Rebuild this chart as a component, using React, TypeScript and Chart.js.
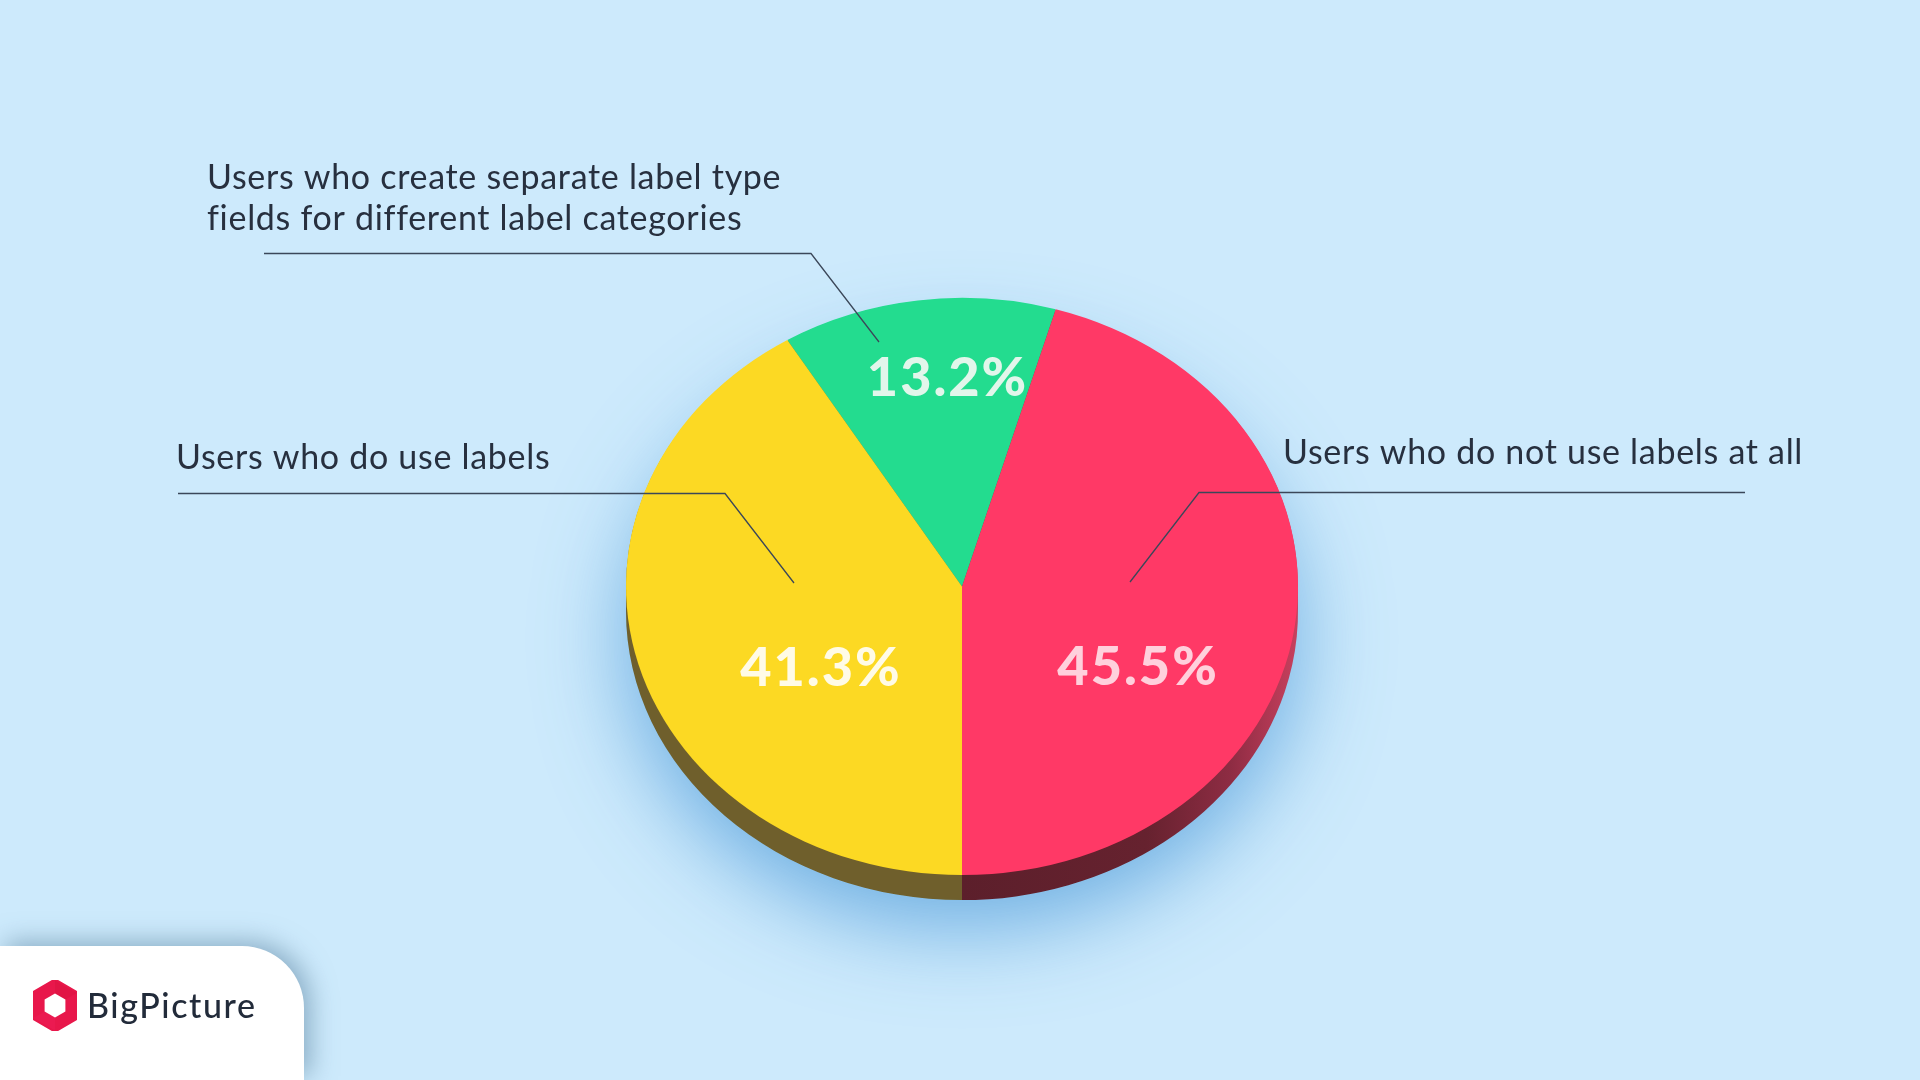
import React, { useEffect, useRef } from "react";
import { Chart, registerables } from "chart.js";

Chart.register(...registerables);

// ---- data ----
const categories: string[][] = [
  ["Users who create separate label type", "fields for different label categories"],
  ["Users who do not use labels at all"],
  ["Users who do use labels"],
];
const values: number[] = [13.2, 45.5, 41.3];
const valueLabels: string[] = ["13.2%", "45.5%", "41.3%"];

// ---- styles ----
const sliceColors = ["#23dc8f", "#ff3966", "#fcd923"];
const valueTextColors = ["#e2f6eb", "#ffd0dc", "#fffbe6"];
const BG = "#cdeafc";
const TEXT = "#27303f";
const SCALE_Y = 0.859;
const DEPTH = 25;

// annotation layout (relative to pie centre, as fraction of radii)
const valueOffsets = [
  [-0.046, -0.66],
  [0.521, 0.341],
  [-0.423, 0.345],
];
// category label anchors (absolute pixels) and leader lines
const labelAnchors = [
  { x: 207, y: [189, 230] },
  { x: 1283, y: [464] },
  { x: 176, y: [469] },
];
const leaders = [
  [[264, 253.5], [811, 253.5], [879, 342]],
  [[1745, 492.5], [1199, 492.5], [1130, 582]],
  [[178, 493.5], [725, 493.5], [794, 583]],
];

const pie3d = {
  id: "pie3d",
  beforeDatasetsDraw(chart: any) {
    const ctx: CanvasRenderingContext2D = chart.ctx;
    const arcs = chart.getDatasetMeta(0).data as any[];
    const { x, y, outerRadius: r } = arcs[0];
    ctx.save();
    ctx.translate(x, y);
    ctx.scale(1, SCALE_Y);
    ctx.translate(-x, -y);
    const d = DEPTH / SCALE_Y;

    // glow/shadow
    ctx.save();
    ctx.shadowColor = "rgba(70,150,215,0.7)";
    ctx.shadowBlur = 85;
    ctx.shadowOffsetY = 28;
    ctx.beginPath();
    ctx.arc(x, y + d, r, 0, Math.PI * 2);
    ctx.fillStyle = "#8fc7ea";
    ctx.fill();
    ctx.restore();

    // side walls
    const sideFills: (string | CanvasGradient)[] = [];
    const gRed = ctx.createLinearGradient(x, 0, x + r, 0);
    gRed.addColorStop(0, "#5c1f2b");
    gRed.addColorStop(0.55, "#66222f");
    gRed.addColorStop(0.8, "#8e2c43");
    gRed.addColorStop(1, "#c8405e");
    sideFills.push("#168a59", gRed, "#6f5f2c");
    arcs.forEach((a: any, i: number) => {
      ctx.beginPath();
      for (let k = d; k >= 1; k -= 1) {
        ctx.moveTo(a.x, a.y + k);
        ctx.arc(a.x, a.y + k, a.outerRadius, a.startAngle, a.endAngle);
        ctx.closePath();
      }
      ctx.fillStyle = sideFills[i];
      ctx.fill();
    });
  },
  afterDatasetsDraw(chart: any) {
    chart.ctx.restore();
  },
  afterDraw(chart: any) {
    const ctx: any = chart.ctx;
    const arcs = chart.getDatasetMeta(0).data as any[];
    const { x, y, outerRadius: r } = arcs[0];
    ctx.save();
    // value labels
    ctx.font = "900 54px Lato, 'Noto Sans', sans-serif";
    ctx.letterSpacing = "2px";
    ctx.textAlign = "center";
    ctx.textBaseline = "alphabetic";
    valueLabels.forEach((t, i) => {
      ctx.fillStyle = valueTextColors[i];
      ctx.fillText(t, x + valueOffsets[i][0] * r + 1, y + valueOffsets[i][1] * r * SCALE_Y);
    });
    // leader lines
    ctx.letterSpacing = "0px";
    ctx.strokeStyle = "#3b4759";
    ctx.lineWidth = 1.3;
    leaders.forEach((pts) => {
      ctx.beginPath();
      ctx.moveTo(pts[0][0], pts[0][1]);
      for (let i = 1; i < pts.length; i++) ctx.lineTo(pts[i][0], pts[i][1]);
      ctx.stroke();
    });
    // category labels
    ctx.font = "400 34px Lato, 'Noto Sans', sans-serif";
    ctx.letterSpacing = "0.7px";
    ctx.textAlign = "left";
    ctx.fillStyle = TEXT;
    categories.forEach((lines, i) => {
      lines.forEach((ln, j) => {
        ctx.fillText(ln, labelAnchors[i].x, labelAnchors[i].y[j]);
      });
    });
    ctx.restore();
  },
};

function Logo() {
  const pts = (rad: number) =>
    Array.from({ length: 6 }, (_, i) => {
      const a = (Math.PI / 3) * i - Math.PI / 2;
      return `${22 + rad * Math.cos(a)},${25.5 + rad * Math.sin(a)}`;
    }).join(" ");
  return (
    <svg width="44" height="51" viewBox="0 0 44 51" style={{ position: "absolute", left: 33, top: 34 }}>
      <polygon points={pts(25)} fill="#e8174b" strokeLinejoin="round" stroke="#e8174b" strokeWidth="4" />
      <polygon points="22,25.5 22,0.5 43.6,13" fill="#d9123f" opacity="0.5" />
      <polygon points="22,25.5 0.4,38 22,50.5" fill="#f0205a" opacity="0.4" />
      <polygon points={pts(12)} fill="#ffffff" />
    </svg>
  );
}

export default function App() {
  const ref = useRef<HTMLCanvasElement>(null);
  useEffect(() => {
    const total = values.reduce((s, v) => s + v, 0);
    const rotation = 180 - ((values[0] + values[1]) / total) * 360;
    const chart = new Chart(ref.current as HTMLCanvasElement, {
      type: "pie",
      data: {
        labels: categories,
        datasets: [
          {
            data: values,
            backgroundColor: sliceColors,
            borderWidth: 0,
          },
        ],
      },
      options: {
        responsive: false,
        animation: false,
        events: [],
        rotation,
        layout: { padding: { left: 626, right: 622, top: 250.5, bottom: 157.5 } },
        plugins: { legend: { display: false }, tooltip: { enabled: false } },
      },
      plugins: [pie3d],
    });
    return () => chart.destroy();
  }, []);
  return (
    <div style={{ position: "fixed", left: 0, top: 0, width: 1920, height: 1080, background: BG, overflow: "hidden" }}>
      <canvas ref={ref} width={1920} height={1080} style={{ position: "absolute", left: 0, top: 0, width: 1920, height: 1080 }} />
      <div
        style={{
          position: "absolute",
          left: 0,
          top: 946,
          width: 304,
          height: 134,
          background: "#ffffff",
          borderTopRightRadius: 62,
          boxShadow: "6px -4px 26px rgba(80,120,150,0.55)",
        }}
      >
        <Logo />
        <div
          style={{
            position: "absolute",
            left: 87,
            top: 39,
            fontFamily: "Lato, 'Noto Sans', sans-serif",
            fontSize: 34,
            fontWeight: 500,
            letterSpacing: "1.6px",
            lineHeight: "40px",
            color: "#222b3a",
          }}
        >
          BigPicture
        </div>
      </div>
    </div>
  );
}
